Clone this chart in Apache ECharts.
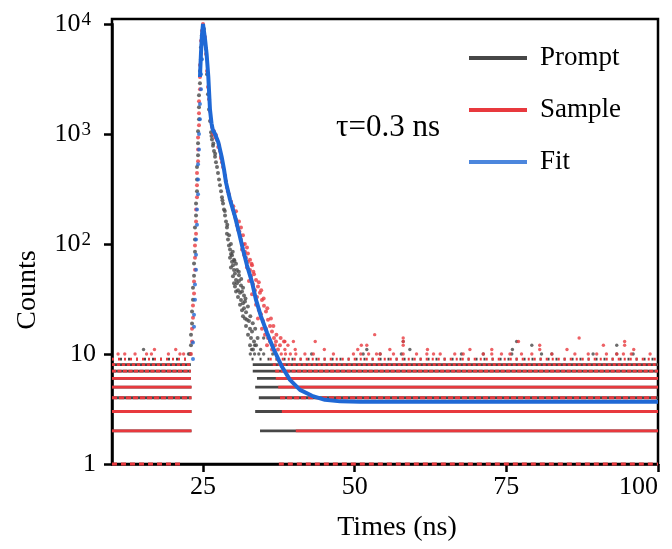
<!DOCTYPE html>
<html><head><meta charset="utf-8">
<script src="https://cdn.jsdelivr.net/npm/echarts@6/dist/echarts.min.js"></script>
<style>html,body{margin:0;padding:0;background:#fff}#c{width:672px;height:549px}</style>
</head><body><div id="c"></div>
<script>
// ---------- data ----------
const xTickValues = [25, 50, 75, 100];
const legendNames = ['Prompt', 'Sample', 'Fit'];
const annotation = 'τ=0.3 ns';

// rising edge (time ns, counts)
const promptRise = [[22.86,10],[23.02,12],[23.02,15],[23.19,18.9],[23.19,24.3],[23.35,31.1],[23.35,40.1],[23.52,51.5],[23.52,66.4],[23.68,85],[23.68,110],[23.68,141],[23.85,182],[23.85,234],[24.01,301],[24.01,386],[24.01,500],[24.18,640],[24.18,825],[24.18,1060],[24.34,1360],[24.34,1750],[24.34,2250],[24.5,2900],[24.5,3730],[24.67,4780],[24.67,6160],[24.83,7900],[25.0,9400]];
const sampleRise = [[23.02,10],[23.19,13],[23.19,17],[23.35,21.4],[23.35,27.6],[23.52,35.4],[23.52,45.5],[23.68,58.4],[23.68,75],[23.68,97],[23.85,124],[23.85,160],[23.85,206],[24.01,266],[24.01,342],[24.01,441],[24.18,565],[24.18,724],[24.18,930],[24.34,1200],[24.34,1540],[24.34,1990],[24.5,2550],[24.5,3300],[24.5,4240],[24.67,5460],[24.67,7040],[24.83,8700],[25.0,10000]];
const fitRise = [[23.35,9],[23.35,12.7],[23.52,17.7],[23.52,22.8],[23.68,31.1],[23.68,42.9],[23.85,58.4],[23.85,80],[23.85,110],[24.01,150],[24.01,206],[24.18,283],[24.18,386],[24.18,530],[24.34,724],[24.34,1000],[24.5,1360],[24.5,1870],[24.67,2550],[24.67,3500],[24.83,4780],[24.83,6550]];

// decays
const promptDecay = [[25.16,9000],[25.49,5950],[25.66,3500],[25.82,2300],[25.99,1670],[26.15,1310],[26.32,1040],[26.48,893],[26.65,780],[26.81,700],[26.98,620],[27.14,555],[27.31,500],[27.47,441],[27.64,386],[27.8,342],[27.97,301],[28.13,266],[28.3,234],[28.46,206],[28.63,182],[28.79,160],[28.95,141],[28.95,124],[29.12,110],[29.28,97],[29.45,89],[29.61,81],[29.45,75],[29.78,69],[29.94,64],[29.61,61],[30.11,58],[30.27,54],[29.94,51],[30.44,47],[30.6,44],[30.27,41],[30.77,38],[31.1,36],[30.77,33],[31.26,31],[31.59,29],[31.1,28],[31.76,26],[32.09,24],[31.59,22],[32.25,20.5],[32.58,20],[32.09,18],[32.75,17],[33.08,16],[32.42,15],[32.91,14],[33.41,13],[32.75,12],[33.74,12],[33.24,11],[29.78,79],[30.11,72],[30.44,66],[30.6,58],[30.93,52],[30.93,46],[31.26,42],[31.43,37],[31.76,34],[31.92,30],[30.44,37],[30.11,44],[31.43,25],[31.92,21],[26.4,960],[26.7,820],[27.0,660],[28.2,250],[28.6,200],[29.0,150],[29.3,120],[29.6,100],[29.9,85],[30.2,70],[30.9,56],[31.3,48],[31.6,40],[32.0,32],[32.4,27],[32.8,22],[33.2,19],[33.6,17],[34.0,14]];
const sampleDecay = [[25.33,7620],[25.49,5330],[25.66,3730],[25.82,2680],[25.99,2070],[26.15,1620],[26.32,1310],[26.48,1160],[26.81,1060],[27.14,980],[27.31,880],[27.64,790],[27.8,700],[27.97,620],[28.13,555],[28.3,500],[28.63,420],[28.79,371],[28.95,327],[29.28,283],[29.61,244],[29.94,206],[30.11,190],[30.44,167],[30.6,148],[30.77,135],[31.1,120],[31.26,110],[31.59,99],[31.43,89],[31.92,85],[32.09,75],[32.42,69],[32.25,61],[32.75,58],[32.91,51],[32.58,46],[33.24,43],[33.57,38],[33.08,35],[33.9,33],[33.74,28],[34.23,25],[34.56,23],[34.06,21],[34.89,20],[34.72,17],[35.38,17],[35.22,15],[35.71,14],[36.04,13],[35.55,12],[36.37,11],[36.87,12],[37.36,11],[31.76,80],[32.25,93],[32.75,72],[33.08,64],[33.41,53],[33.74,47],[34.06,41],[34.39,36],[34.72,31],[35.05,27.5],[35.38,24.3],[35.71,20.5],[36.04,18],[36.37,16],[36.7,14],[37.03,13],[37.69,12],[38.35,13],[30.44,198],[30.93,160],[31.26,141],[31.59,120],[26.7,1000],[27.0,930],[27.5,760],[28.0,600],[29.1,300],[30.0,220],[30.3,176],[31.0,130],[31.9,100],[32.4,82],[33.0,66],[33.3,56],[34.2,45],[34.6,38],[35.0,32],[35.6,26],[36.2,21],[36.6,18],[37.1,15],[37.8,14]];

// fitted curve
const fitCurve = [[24.5,3300],[24.67,5460],[24.83,8000],[25.0,10000],[25.33,7300],[25.6,5300],[25.87,3360],[26.15,1670],[26.4,1250],[26.6,1100],[26.98,1000],[27.52,840],[28.08,620],[28.46,477],[28.79,363],[29.45,254],[30.27,178],[30.93,127],[31.59,89],[32.25,64],[33.08,45],[33.74,31],[34.56,22],[35.55,15.6],[36.7,10.9],[38.02,7.65],[39.34,5.82],[40.99,4.72],[42.97,4.17],[45.1,3.83],[47.6,3.71],[50.9,3.68],[100,3.68]];

// background rows at integer count levels: [level, fromTime, toTime]
const promptRows = [[2,10,23.1],[2,34.4,100],[3,10,23.1],[3,33.6,100],[4,10,23.1],[4,34.2,100],[5,10,23.1],[5,33.6,100],[6,10,23.0],[6,33.9,100],[7,10,23.0],[7,33.2,100],[8,10,23.0],[8,33.2,100],[9,10,22.8],[9,33.0,100]];
const sampleRows = [[1,10,21.8],[1,37.5,100],[2,10,23.1],[2,40.3,100],[3,10,23.1],[3,38.0,100],[4,10,23.1],[4,37.7,100],[5,10,23.1],[5,37.4,100],[6,10,23.0],[6,37.0,100],[7,10,23.0],[7,36.9,100],[8,10,23.0],[8,36.5,100],[9,10,22.8],[9,36.0,100]];

// sparse background counts above the rows
const promptSparse = [[22.6,10],[32.8,10],[33.5,10],[34.2,10],[35.0,10],[36.5,10],[42.9,10],[51.4,10],[54.2,10],[57.7,10],[67.6,10],[71.2,10],[75.9,10],[80.8,10],[82.5,10],[89.3,10],[93.2,10],[95.9,10],[15.2,11],[33.0,11],[34.5,11],[52.0,11],[59.1,11],[76.0,11],[33.5,12],[79.2,12],[93.2,12],[76.7,13],[58.0,13],[35.0,14]];
const sampleSparse = [[11.0,10],[12.1,10],[13.8,10],[15.7,10],[16.5,10],[19.3,10],[21.2,10],[21.8,10],[37.9,10],[38.6,10],[39.4,10],[40.3,10],[41.8,10],[43.2,10],[46.5,10],[49.8,10],[51.0,10],[52.3,10],[53.6,10],[54.2,10],[56.4,10],[58.0,10],[60.2,10],[61.9,10],[63.0,10],[64.1,10],[66.5,10],[67.9,10],[71.2,10],[72.6,10],[74.2,10],[75.6,10],[77.5,10],[79.2,10],[82.5,10],[86.3,10],[88.5,10],[89.9,10],[91.5,10],[93.2,10],[94.3,10],[95.6,10],[98.7,10],[17.0,11],[20.5,11],[38.5,11],[40.2,11],[45.0,11],[50.5,11],[55.8,11],[62.0,11],[69.0,11],[72.6,11],[80.5,11],[85.0,11],[96.0,11],[39.0,12],[51.1,12],[52.0,12],[58.0,12],[80.5,12],[91.0,12],[94.5,12],[38.5,13],[39.9,13],[43.5,13],[58.0,13],[77.0,13],[94.5,13],[58.0,14],[87.0,14],[53.3,15]];

// ---------- styling ----------
const FONT = "'Liberation Serif','Times New Roman',serif";
const C_PROMPT = '#474747', C_SAMPLE = '#e8393e', C_FIT = '#1f68d5';
function sampleDash(level){
  if (level === 1) return [5,4];
  if (level === 4) return [5,2];
  if (level === 7) return [4,1.5];
  if (level === 8) return [3,2];
  if (level === 9) return [2,4];
  return 'solid';
}
function promptDash(level){
  if (level === 9) return [2,6];
  return 'solid';
}
function rowSeries(name, rows, color, dashFn){
  return rows.map(r => ({
    type:'line', name, xAxisIndex:0, yAxisIndex:0,
    data:[[r[1], r[0]], [r[2], r[0]]],
    symbol:'none', showSymbol:false, clip:false, silent:true,
    itemStyle:{color}, lineStyle:{color, width:2.8, type:dashFn(r[0])}, z:2
  }));
}
function dots(name, data, color, size){
  return {type:'scatter', name, data, symbol:'circle', symbolSize:size||3.4,
    itemStyle:{color}, silent:true, clip:false, z:3};
}

const series = [].concat(
  rowSeries('Prompt', promptRows, C_PROMPT, promptDash),
  rowSeries('Sample', sampleRows, C_SAMPLE, sampleDash),
  [
    dots('Prompt', promptSparse, C_PROMPT),
    dots('Sample', sampleSparse, C_SAMPLE),
    dots('Prompt', promptRise, C_PROMPT, 4),
    dots('Sample', sampleRise, C_SAMPLE, 4),
    dots('Prompt', promptDecay, C_PROMPT, 4),
    dots('Sample', sampleDecay, C_SAMPLE, 4),
    dots('Fit', fitRise, C_FIT, 4),
    {type:'line', name:'Fit', data:fitCurve, symbol:'none', showSymbol:false, clip:false,
     itemStyle:{color:C_FIT}, lineStyle:{color:C_FIT, width:4}, z:5}
  ]
);
const chart = echarts.init(document.getElementById('c'), null, {renderer:'canvas'});
chart.setOption({
  animation:false,
  backgroundColor:'#fff',
  grid:[
    {left:112, right:14, top:24, bottom:85, show:false, containLabel:false, outerBoundsMode:'none'},
    {left:112, right:14, top:19, bottom:85, show:true, borderColor:'#000', borderWidth:2.5, backgroundColor:'transparent', containLabel:false, outerBoundsMode:'none'}
  ],
  xAxis:[
    {type:'value', gridIndex:0, min:10, max:100,
     axisLine:{show:true, onZero:false, lineStyle:{color:'#000', width:2.5}},
     axisTick:{show:true, customValues:xTickValues, length:8, lineStyle:{color:'#000', width:2.5}},
     axisLabel:{customValues:xTickValues, margin:10, fontFamily:FONT, fontSize:26, color:'#000', alignMaxLabel:'right'},
     splitLine:{show:false}},
    {type:'value', gridIndex:1, show:false, min:0, max:1}
  ],
  yAxis:[
    {type:'log', logBase:10, gridIndex:0, min:1, max:10000,
     axisLine:{show:true, onZero:false, lineStyle:{color:'#000', width:2.5}},
     axisTick:{show:true, length:8, lineStyle:{color:'#000', width:2.5}},
     minorTick:{show:false}, splitLine:{show:false},
     axisLabel:{margin:16, fontFamily:FONT, fontSize:26, color:'#000',
       formatter:function(v){
         const e = Math.round(Math.log10(v));
         if (e === 0) return '1';
         if (e === 1) return '10';
         return '{b|10}{s|' + e + '}';
       },
       rich:{
         b:{fontFamily:FONT, fontSize:26, color:'#000'},
         s:{fontFamily:FONT, fontSize:19, color:'#000', verticalAlign:'top', padding:[0,5,0,1]}
       }}},
    {type:'value', gridIndex:1, show:false, min:0, max:1}
  ],
  legend:{
    orient:'vertical', left:464, top:38, itemWidth:58, itemHeight:4, itemGap:22,
    icon:'rect', selectedMode:false, data:legendNames,
    textStyle:{fontFamily:FONT, fontSize:27, color:'#000', lineHeight:30, padding:[0,0,0,8]}
  },
  graphic:[
    {type:'text', x:28, y:290, rotation:Math.PI/2,
     style:{text:'Counts', fontFamily:FONT, fontSize:28, fill:'#000', align:'center', verticalAlign:'middle'}},
    {type:'text', x:397, y:528,
     style:{text:'Times (ns)', fontFamily:FONT, fontSize:28, fill:'#000', align:'center', verticalAlign:'middle'}},
    {type:'text', x:336, y:128,
     style:{text:annotation, fontFamily:FONT, fontSize:31, fill:'#000', align:'left', verticalAlign:'middle'}}
  ],
  series:series
});
</script></body></html>
